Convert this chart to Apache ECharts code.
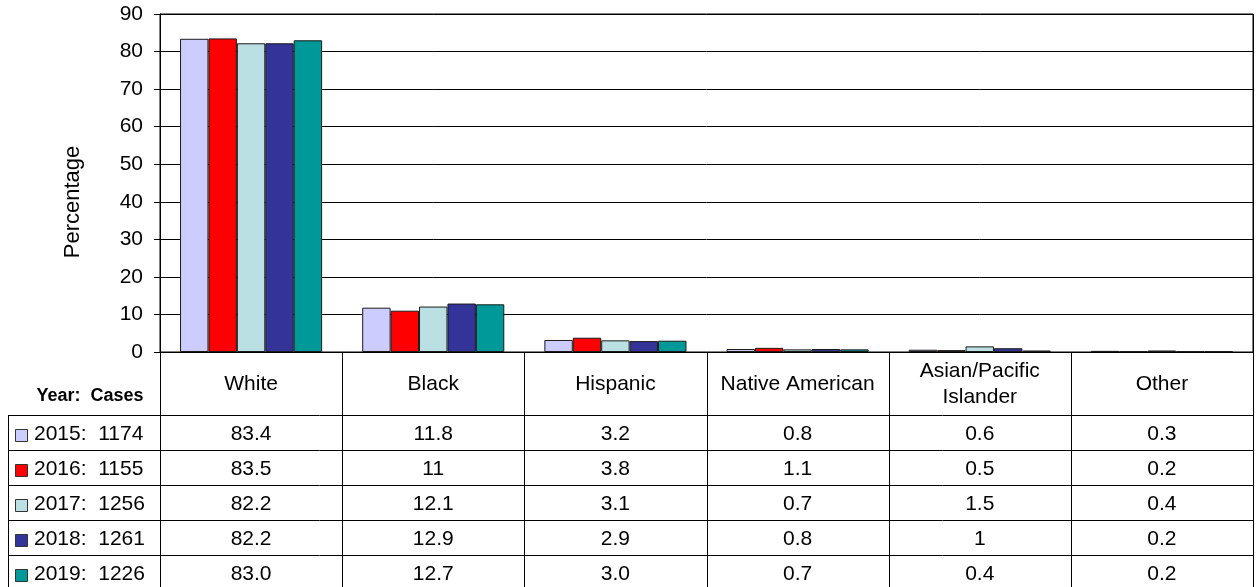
<!DOCTYPE html>
<html>
<head>
<meta charset="utf-8">
<script src="https://cdn.jsdelivr.net/npm/echarts@6/dist/echarts.min.js"></script>
<style>
html,body{margin:0;padding:0;background:#fff;}
#chart{width:1260px;height:587px;}
</style>
</head>
<body>
<div id="chart"></div>
<script>
const categories = ['White', 'Black', 'Hispanic', 'Native American', 'Asian/Pacific\nIslander', 'Other'];
const years = ['2015', '2016', '2017', '2018', '2019'];
const cases = ['1174', '1155', '1256', '1261', '1226'];
const values2015 = ['83.4', '11.8', '3.2', '0.8', '0.6', '0.3'];
const values2016 = ['83.5', '11', '3.8', '1.1', '0.5', '0.2'];
const values2017 = ['82.2', '12.1', '3.1', '0.7', '1.5', '0.4'];
const values2018 = ['82.2', '12.9', '2.9', '0.8', '1', '0.2'];
const values2019 = ['83.0', '12.7', '3.0', '0.7', '0.4', '0.2'];
const yTicks = { min: 0, max: 90, interval: 10 };
const yAxisName = 'Percentage';
const tableCorner = 'Year:  Cases';

const allValues = [values2015, values2016, values2017, values2018, values2019];
const colors = ['#CCCCFF', '#FF0000', '#BBE0E3', '#333399', '#009999'];
const FONT = "'Liberation Sans', Arial, sans-serif";

const chart = echarts.init(document.getElementById('chart'), null, { renderer: 'canvas' });

const option = {
  animation: false,
  backgroundColor: '#ffffff',
  grid: { left: 160, right: 7, top: 14, bottom: 235, show: true, borderColor: '#000', borderWidth: 1, backgroundColor: 'transparent' },
  xAxis: {
    type: 'category',
    data: categories,
    axisLine: { show: true, lineStyle: { color: '#000', width: 1 } },
    axisTick: { show: false },
    axisLabel: { show: false },
    splitLine: { show: false }
  },
  yAxis: {
    type: 'value',
    min: yTicks.min, max: yTicks.max, interval: yTicks.interval,
    axisLine: { show: true, lineStyle: { color: '#000', width: 1 } },
    axisTick: { show: true, length: 6, lineStyle: { color: '#000' } },
    axisLabel: { fontSize: 21, color: '#000', fontFamily: FONT, margin: 17 },
    splitLine: { show: true, lineStyle: { color: '#000', width: 1 } }
  },
  series: years.map((y, i) => ({
    name: y,
    type: 'bar',
    data: allValues[i].map(Number),
    barGap: '0%',
    barCategoryGap: '22%',
    itemStyle: { color: colors[i], borderColor: '#1a1a1a', borderWidth: 1 }
  }))
};
chart.setOption(option);

// Data table built from the axis scales
function buildTable() {
  const c0 = chart.convertToPixel({ xAxisIndex: 0 }, 0);
  const c1 = chart.convertToPixel({ xAxisIndex: 0 }, 1);
  const band = c1 - c0;
  const yZero = Math.round(chart.convertToPixel({ yAxisIndex: 0 }, 0));
  const yTop = Math.round(chart.convertToPixel({ yAxisIndex: 0 }, yTicks.max));
  const left = Math.round(c0 - band / 2);
  const right = Math.round(c0 + band * (categories.length - 0.5));
  const headerH = 63;
  const rowH = 35;
  const tableLeft = 8;
  const bottom = yZero + headerH + rowH * years.length + 2;
  const g = [];
  const px = v => Math.round(v) + 0.5;
  const line = (x1, y1, x2, y2) => g.push({
    type: 'line', silent: true, z: 100,
    shape: { x1: x1, y1: y1, x2: x2, y2: y2 },
    style: { stroke: '#000', lineWidth: 1 }
  });
  const text = (t, x, y, opts) => g.push({
    type: 'text', silent: true, z: 101,
    style: Object.assign({
      text: t, x: x, y: y, fill: '#000',
      fontSize: 21, fontFamily: FONT,
      align: 'center', verticalAlign: 'middle'
    }, opts || {})
  });

  // y axis name
  g.push({
    type: 'text', silent: true, z: 101,
    x: left - 87, y: (yTop + yZero) / 2 + 19, rotation: Math.PI / 2,
    style: { text: yAxisName, x: 0, y: 0, fill: '#000', fontSize: 22, fontFamily: FONT, align: 'center', verticalAlign: 'middle' }
  });

  // vertical lines for category columns
  for (let i = 0; i <= categories.length; i++) {
    const x = px(c0 - band / 2 + band * i);
    line(x, yZero, x, bottom);
  }
  // left column border
  line(px(tableLeft), yZero + headerH, px(tableLeft), bottom);
  // horizontal row lines
  for (let r = 0; r <= years.length; r++) {
    const y = px(yZero + headerH + rowH * r);
    line(tableLeft, y, right + 1, y);
  }
  // right plot edge emphasis
  line(right + 0.5, yTop, right + 0.5, bottom);

  // header texts
  categories.forEach((c, i) => {
    const cx = c0 + band * i;
    text(c, cx, yZero + headerH / 2 + 1, { lineHeight: 26 });
  });
  text(tableCorner, (tableLeft + left) / 2 + 6, yZero + headerH / 2 + 13, { fontSize: 18, fontWeight: 'bold' });

  // rows
  years.forEach((y, r) => {
    const cy = yZero + headerH + rowH * r + rowH / 2 + 2;
    g.push({
      type: 'rect', silent: true, z: 101,
      shape: { x: tableLeft + 7.5, y: Math.round(cy - 6) + 0.5, width: 12, height: 12 },
      style: { fill: colors[r], stroke: '#333', lineWidth: 1 }
    });
    text(y + ':  ' + cases[r], tableLeft + 26, cy, { align: 'left' });
    allValues[r].forEach((v, i) => {
      text(v, c0 + band * i, cy);
    });
  });
  chart.setOption({ graphic: g });
}
buildTable();
</script>
</body>
</html>
